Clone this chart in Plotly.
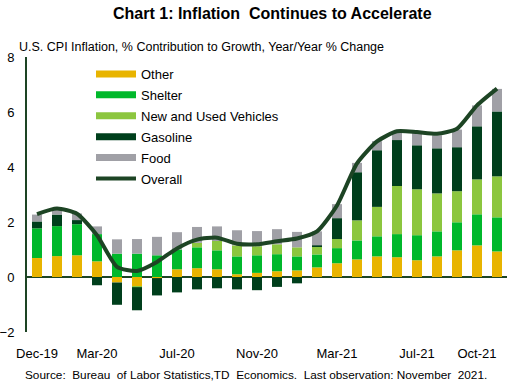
import plotly.graph_objects as go

months = ["Dec-19","Jan-20","Feb-20","Mar-20","Apr-20","May-20","Jun-20","Jul-20","Aug-20","Sep-20","Oct-20","Nov-20",
          "Dec-20","Jan-21","Feb-21","Mar-21","Apr-21","May-21","Jun-21","Jul-21","Aug-21","Sep-21","Oct-21","Nov-21"]

other    = [0.69,0.76,0.79,0.57,-0.20,-0.33,-0.04,0.28,0.32,0.28,0.10,0.15,0.21,0.24,0.35,0.50,0.64,0.75,0.72,0.61,0.75,0.97,1.15,0.93]
shelter  = [1.08,1.09,1.13,0.99,0.85,0.85,0.79,0.72,0.76,0.69,0.65,0.64,0.62,0.51,0.47,0.55,0.69,0.73,0.84,0.91,0.91,1.02,1.13,1.24]
vehicles = [0.00,0.00,0.00,0.00,0.00,-0.04,0.00,0.00,0.16,0.34,0.40,0.33,0.36,0.33,0.28,0.33,0.73,1.07,1.75,1.67,1.38,1.13,1.27,1.49]
gasoline = [0.25,0.42,0.15,-0.30,-0.81,-0.84,-0.63,-0.56,-0.45,-0.41,-0.45,-0.48,-0.36,-0.23,0.05,0.76,1.75,2.06,1.67,1.60,1.64,1.60,1.93,2.36]
food     = [0.25,0.20,0.24,0.28,0.52,0.53,0.67,0.63,0.58,0.53,0.55,0.55,0.55,0.56,0.51,0.51,0.34,0.33,0.30,0.45,0.47,0.64,0.76,0.82]
overall  = [2.29,2.49,2.30,1.52,0.37,0.22,0.55,1.04,1.36,1.43,1.21,1.19,1.30,1.40,1.66,2.60,4.13,4.93,5.30,5.27,5.21,5.39,6.24,6.85]

tick_months = ["Dec-19","Mar-20","Jul-20","Nov-20","Mar-21","Jul-21","Oct-21"]

series = [("Other", other, "#E8B400"),
          ("Shelter", shelter, "#00B82B"),
          ("New and Used Vehicles", vehicles, "#8CC63F"),
          ("Gasoline", gasoline, "#003F1C"),
          ("Food", food, "#A0A0A6")]
line_color = "#1D4424"
font = "Liberation Sans, Arial, sans-serif"
NB = "\u00a0"

W, H = 516, 385
pl, pr, pt, pb = 27, 9, 57, 53
pw, ph = W - pl - pr, H - pt - pb
def px(x): return (x - pl) / pw        # pixel x -> paper
def py(y): return (H - pb - y) / ph    # pixel y -> paper

fig = go.Figure()
for name, vals, col in series:
    fig.add_trace(go.Bar(x=months, y=vals, name=name, marker_color=col,
                         marker_line_width=0, showlegend=False))
for name, vals, col in series:
    fig.add_trace(go.Scatter(x=[None], y=[None], mode="lines", name=name, legendgroup=name,
                             line=dict(color=col, width=7)))
fig.add_trace(go.Scatter(x=months, y=overall, mode="lines", name="Overall", legendgroup="Overall",
                         line=dict(color=line_color, width=4, shape="spline", smoothing=0.6)))

source = ("Source:" + NB + " Bureau" + NB + " of Labor Statistics,TD" + NB + " Economics." + NB +
          " Last observation: November" + NB + " 2021.")

fig.update_layout(
    width=W, height=H,
    margin=dict(l=pl, r=pr, t=pt, b=pb),
    barmode="relative", bargap=0.5,
    plot_bgcolor="white", paper_bgcolor="white",
    font=dict(family=font, size=13, color="#000000"),
    showlegend=True,
    legend=dict(x=px(91), y=py(59), xanchor="left", yanchor="top",
                bgcolor="rgba(0,0,0,0)", font=dict(size=13),
                tracegroupgap=1, itemwidth=40),
    annotations=[
        dict(text="<b>Chart 1: Inflation" + NB + " Continues to Accelerate</b>", x=px(272), y=py(13),
             xref="paper", yref="paper", xanchor="center", yanchor="middle",
             showarrow=False, font=dict(size=16)),
        dict(text="U.S. CPI Inflation, % Contribution to Growth, Year/Year % Change",
             x=px(17), y=py(47), xref="paper", yref="paper", xanchor="left", yanchor="middle",
             showarrow=False, font=dict(size=12.5)),
        dict(text=source,
             x=px(256), y=py(375), xref="paper", yref="paper", xanchor="center", yanchor="middle",
             showarrow=False, font=dict(size=11.8)),
    ],
)

fig.update_xaxes(type="category", tickmode="array", tickvals=tick_months, ticktext=tick_months,
                 showgrid=False, showline=False, ticks="", ticklabelstandoff=12, tickangle=0,
                 automargin=False, tickfont=dict(size=13))
fig.update_yaxes(range=[-2, 8], dtick=2, showgrid=False, zeroline=True,
                 zerolinecolor=line_color, zerolinewidth=2,
                 showline=True, linecolor=line_color, linewidth=2,
                 ticks="", ticklabelstandoff=8, automargin=False, tickfont=dict(size=13))

# remove the default page margin so the 516x385 figure fills the window exactly
fig.write_html("out.html", config={"displayModeBar": False},
               post_script="document.body.style.margin='0';")
